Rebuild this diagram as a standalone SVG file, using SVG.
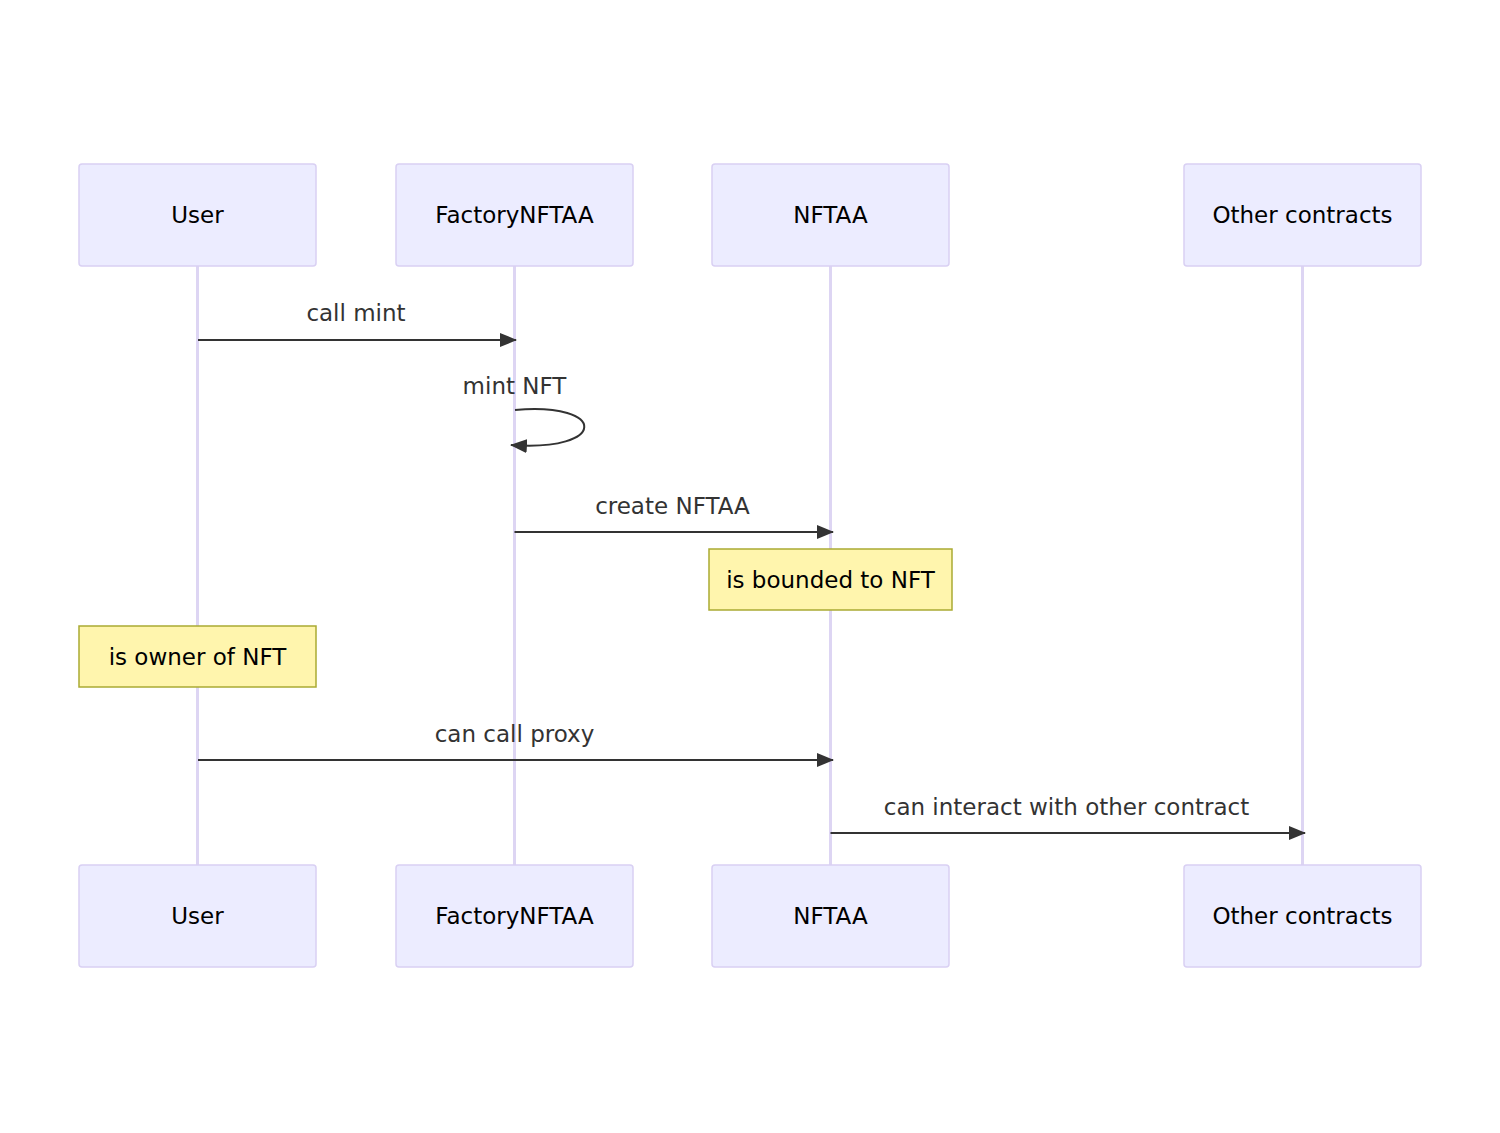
<svg xmlns="http://www.w3.org/2000/svg" width="1500" height="1133" viewBox="0 0 1500 1133">
  <defs>
    <marker id="arrowhead" viewBox="0 0 17 14" refX="16" refY="7" markerWidth="17" markerHeight="14" markerUnits="userSpaceOnUse" orient="auto">
      <path d="M0,0 L17,7 L0,14 z" fill="#333"/>
    </marker>
    <style>
      .actor { fill: #ECECFF; stroke: #D9D0F3; stroke-width: 1.5; }
      .actor-label { font-family: "DejaVu Sans", Verdana, sans-serif; font-size: 23px; fill: #000; text-anchor: middle; dominant-baseline: central; }
      .lifeline { stroke: #DDD5F3; stroke-width: 3; }
      .msg { stroke: #333; stroke-width: 2; fill: none; marker-end: url(#arrowhead); }
      .msg-label { font-family: "DejaVu Sans", Verdana, sans-serif; font-size: 23px; fill: #333; text-anchor: middle; dominant-baseline: central; }
      .note { fill: #FFF5AD; stroke: #AAAA33; stroke-width: 1.5; }
      .note-label { font-family: "DejaVu Sans", Verdana, sans-serif; font-size: 23px; fill: #000; text-anchor: middle; dominant-baseline: central; }
    </style>
  </defs>
  <rect width="1500" height="1133" fill="#fff"/>

  <!-- lifelines -->
  <g id="lifelines">
    <line class="lifeline" x1="197.5" y1="266" x2="197.5" y2="865"/>
    <line class="lifeline" x1="514.5" y1="266" x2="514.5" y2="865"/>
    <line class="lifeline" x1="830.5" y1="266" x2="830.5" y2="865"/>
    <line class="lifeline" x1="1302.5" y1="266" x2="1302.5" y2="865"/>
  </g>

  <!-- participants, top and bottom -->
  <g id="user">
    <rect class="actor" x="79" y="164" width="237" height="102" rx="3"/>
    <text class="actor-label" x="197.5" y="215">User</text>
    <rect class="actor" x="79" y="865" width="237" height="102" rx="3"/>
    <text class="actor-label" x="197.5" y="916">User</text>
  </g>
  <g id="factory">
    <rect class="actor" x="396" y="164" width="237" height="102" rx="3"/>
    <text class="actor-label" x="514.5" y="215">FactoryNFTAA</text>
    <rect class="actor" x="396" y="865" width="237" height="102" rx="3"/>
    <text class="actor-label" x="514.5" y="916">FactoryNFTAA</text>
  </g>
  <g id="nftaa">
    <rect class="actor" x="712" y="164" width="237" height="102" rx="3"/>
    <text class="actor-label" x="830.5" y="215">NFTAA</text>
    <rect class="actor" x="712" y="865" width="237" height="102" rx="3"/>
    <text class="actor-label" x="830.5" y="916">NFTAA</text>
  </g>
  <g id="others">
    <rect class="actor" x="1184" y="164" width="237" height="102" rx="3"/>
    <text class="actor-label" x="1302.5" y="215">Other contracts</text>
    <rect class="actor" x="1184" y="865" width="237" height="102" rx="3"/>
    <text class="actor-label" x="1302.5" y="916">Other contracts</text>
  </g>

  <!-- notes -->
  <g id="note-bounded">
    <rect class="note" x="709" y="549" width="243" height="61"/>
    <text class="note-label" x="830.5" y="580">is bounded to NFT</text>
  </g>
  <g id="note-owner">
    <rect class="note" x="79" y="626" width="237" height="61"/>
    <text class="note-label" x="197.5" y="657">is owner of NFT</text>
  </g>

  <!-- messages -->
  <g id="messages">
    <text class="msg-label" x="356" y="313">call mint</text>
    <line class="msg" x1="198" y1="340" x2="516" y2="340"/>

    <text class="msg-label" x="514.5" y="386">mint NFT</text>
    <path class="msg" d="M515,410 C608,402 608,452 511,445"/>

    <text class="msg-label" x="672.5" y="506">create NFTAA</text>
    <line class="msg" x1="514.5" y1="532" x2="833" y2="532"/>

    <text class="msg-label" x="514.5" y="734">can call proxy</text>
    <line class="msg" x1="198" y1="760" x2="833" y2="760"/>

    <text class="msg-label" x="1066.5" y="807">can interact with other contract</text>
    <line class="msg" x1="830.5" y1="833" x2="1305" y2="833"/>
  </g>
</svg>
